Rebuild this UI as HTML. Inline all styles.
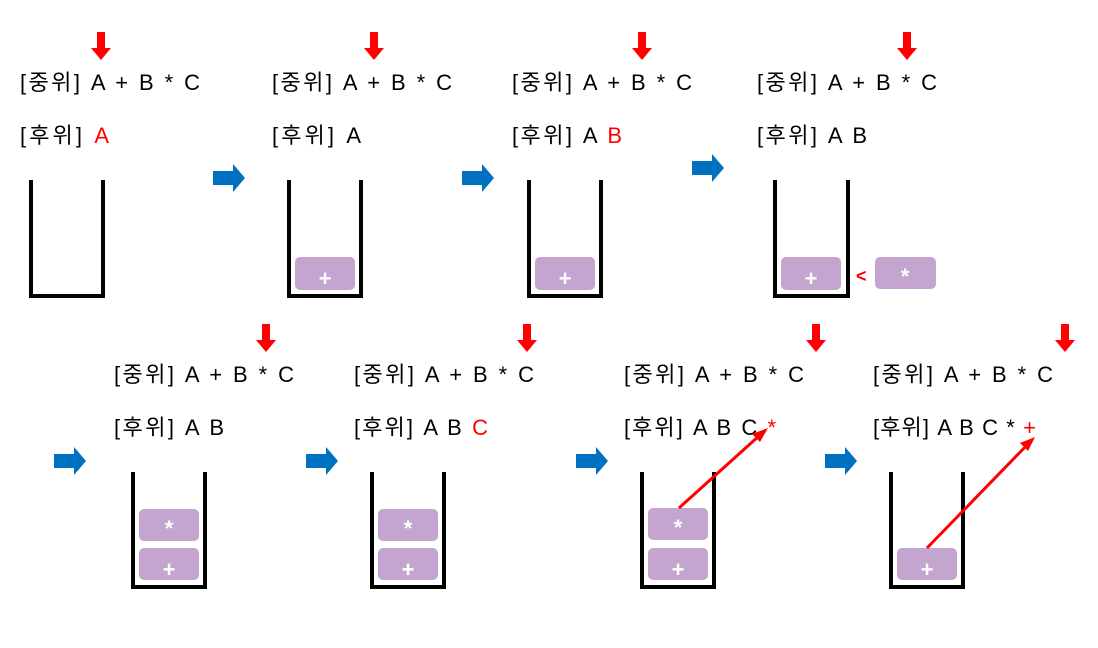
<!DOCTYPE html><html><head><meta charset="utf-8"><style>body{margin:0;background:#fff}svg text{font-family:"Liberation Sans","Noto Sans CJK KR",sans-serif;font-size:22px}</style></head><body>
<svg width="1098" height="643" viewBox="0 0 1098 643" xmlns="http://www.w3.org/2000/svg">
<defs>
<g id="ra"><polygon points="-4,0 4,0 4,16 10,16 0,28 -10,16 -4,16" fill="#f00"/></g>
<g id="ba"><polygon points="0,-7 20,-7 20,-14 32,0 20,14 20,7 0,7" fill="#0070c0"/></g>
</defs>
<g fill="none" stroke="#000" stroke-width="4">
<path d="M31,180V296H103V180"/><path d="M289,180V296H361V180"/><path d="M529,180V296H601V180"/><path d="M775,180V296H848V180"/>
<path d="M133,472V587H205V472"/><path d="M372,472V587H444V472"/><path d="M642,472V587H714V472"/><path d="M891,472V587H963V472"/>
</g>
<use href="#ra" x="101" y="32"/><use href="#ra" x="374" y="32"/><use href="#ra" x="642" y="32"/><use href="#ra" x="907" y="32"/>
<use href="#ra" x="266" y="324"/><use href="#ra" x="527" y="324"/><use href="#ra" x="816" y="324"/><use href="#ra" x="1065" y="324"/>
<use href="#ba" x="213" y="178"/><use href="#ba" x="462" y="178"/><use href="#ba" x="692" y="168"/>
<use href="#ba" x="54" y="461"/><use href="#ba" x="306" y="461"/><use href="#ba" x="576" y="461"/><use href="#ba" x="825" y="461"/>
<g fill="#c3a5cf">
<rect x="295" y="257" width="60" height="33" rx="5"/><rect x="535" y="257" width="60" height="33" rx="5"/><rect x="781" y="257" width="60" height="33" rx="5"/><rect x="875" y="257" width="61" height="32" rx="5"/>
<rect x="139" y="509" width="60" height="32" rx="5"/><rect x="139" y="548" width="60" height="32" rx="5"/>
<rect x="378" y="509" width="60" height="32" rx="5"/><rect x="378" y="548" width="60" height="32" rx="5"/>
<rect x="648" y="508" width="60" height="32" rx="5"/><rect x="648" y="548" width="60" height="32" rx="5"/>
<rect x="897" y="548" width="60" height="32" rx="5"/>
</g>
<g fill="#fff" font-weight="bold" text-anchor="middle" style="font-size:30px">
<text x="325" y="286">+</text><text x="565" y="286">+</text><text x="811" y="286">+</text><text x="905" y="284">*</text>
<text x="169" y="536">*</text><text x="169" y="577">+</text><text x="408" y="536">*</text><text x="408" y="577">+</text>
<text x="678" y="535">*</text><text x="678" y="577">+</text><text x="927" y="577">+</text>
</g>
<text x="856" y="282" fill="#f00" font-weight="bold" style="font-size:18px">&lt;</text>
<g fill="#000" lengthAdjust="spacing">
<text x="20" y="90" textLength="180" lengthAdjust="spacing">[중위] A + B * C</text><text x="20" y="143" textLength="89" lengthAdjust="spacing">[후위] <tspan fill="#f00">A</tspan></text>
<text x="272" y="90" textLength="180" lengthAdjust="spacing">[중위] A + B * C</text><text x="272" y="143" textLength="89" lengthAdjust="spacing">[후위] A</text>
<text x="512" y="90" textLength="180" lengthAdjust="spacing">[중위] A + B * C</text><text x="512" y="143" textLength="110" lengthAdjust="spacing">[후위] A <tspan fill="#f00">B</tspan></text>
<text x="757" y="90" textLength="180" lengthAdjust="spacing">[중위] A + B * C</text><text x="757" y="143" textLength="110" lengthAdjust="spacing">[후위] A B</text>
<text x="114" y="382" textLength="180" lengthAdjust="spacing">[중위] A + B * C</text><text x="114" y="435" textLength="110" lengthAdjust="spacing">[후위] A B</text>
<text x="354" y="382" textLength="180" lengthAdjust="spacing">[중위] A + B * C</text><text x="354" y="435" textLength="134" lengthAdjust="spacing">[후위] A B <tspan fill="#f00">C</tspan></text>
<text x="624" y="382" textLength="180" lengthAdjust="spacing">[중위] A + B * C</text><text x="624" y="435" textLength="152" lengthAdjust="spacing">[후위] A B C <tspan fill="#f00">*</tspan></text>
<text x="873" y="382" textLength="180" lengthAdjust="spacing">[중위] A + B * C</text><text x="873" y="435" textLength="163" lengthAdjust="spacing">[후위] A B C * <tspan fill="#f00">+</tspan></text>
</g>
<g stroke="#f00" stroke-width="3" fill="#f00">
<line x1="679" y1="508" x2="760" y2="435"/><polygon points="768,428 752,434 760,442" stroke="none"/>
<line x1="927" y1="548" x2="1028" y2="444"/><polygon points="1035,437 1020,443 1028,451" stroke="none"/>
</g>
</svg></body></html>
